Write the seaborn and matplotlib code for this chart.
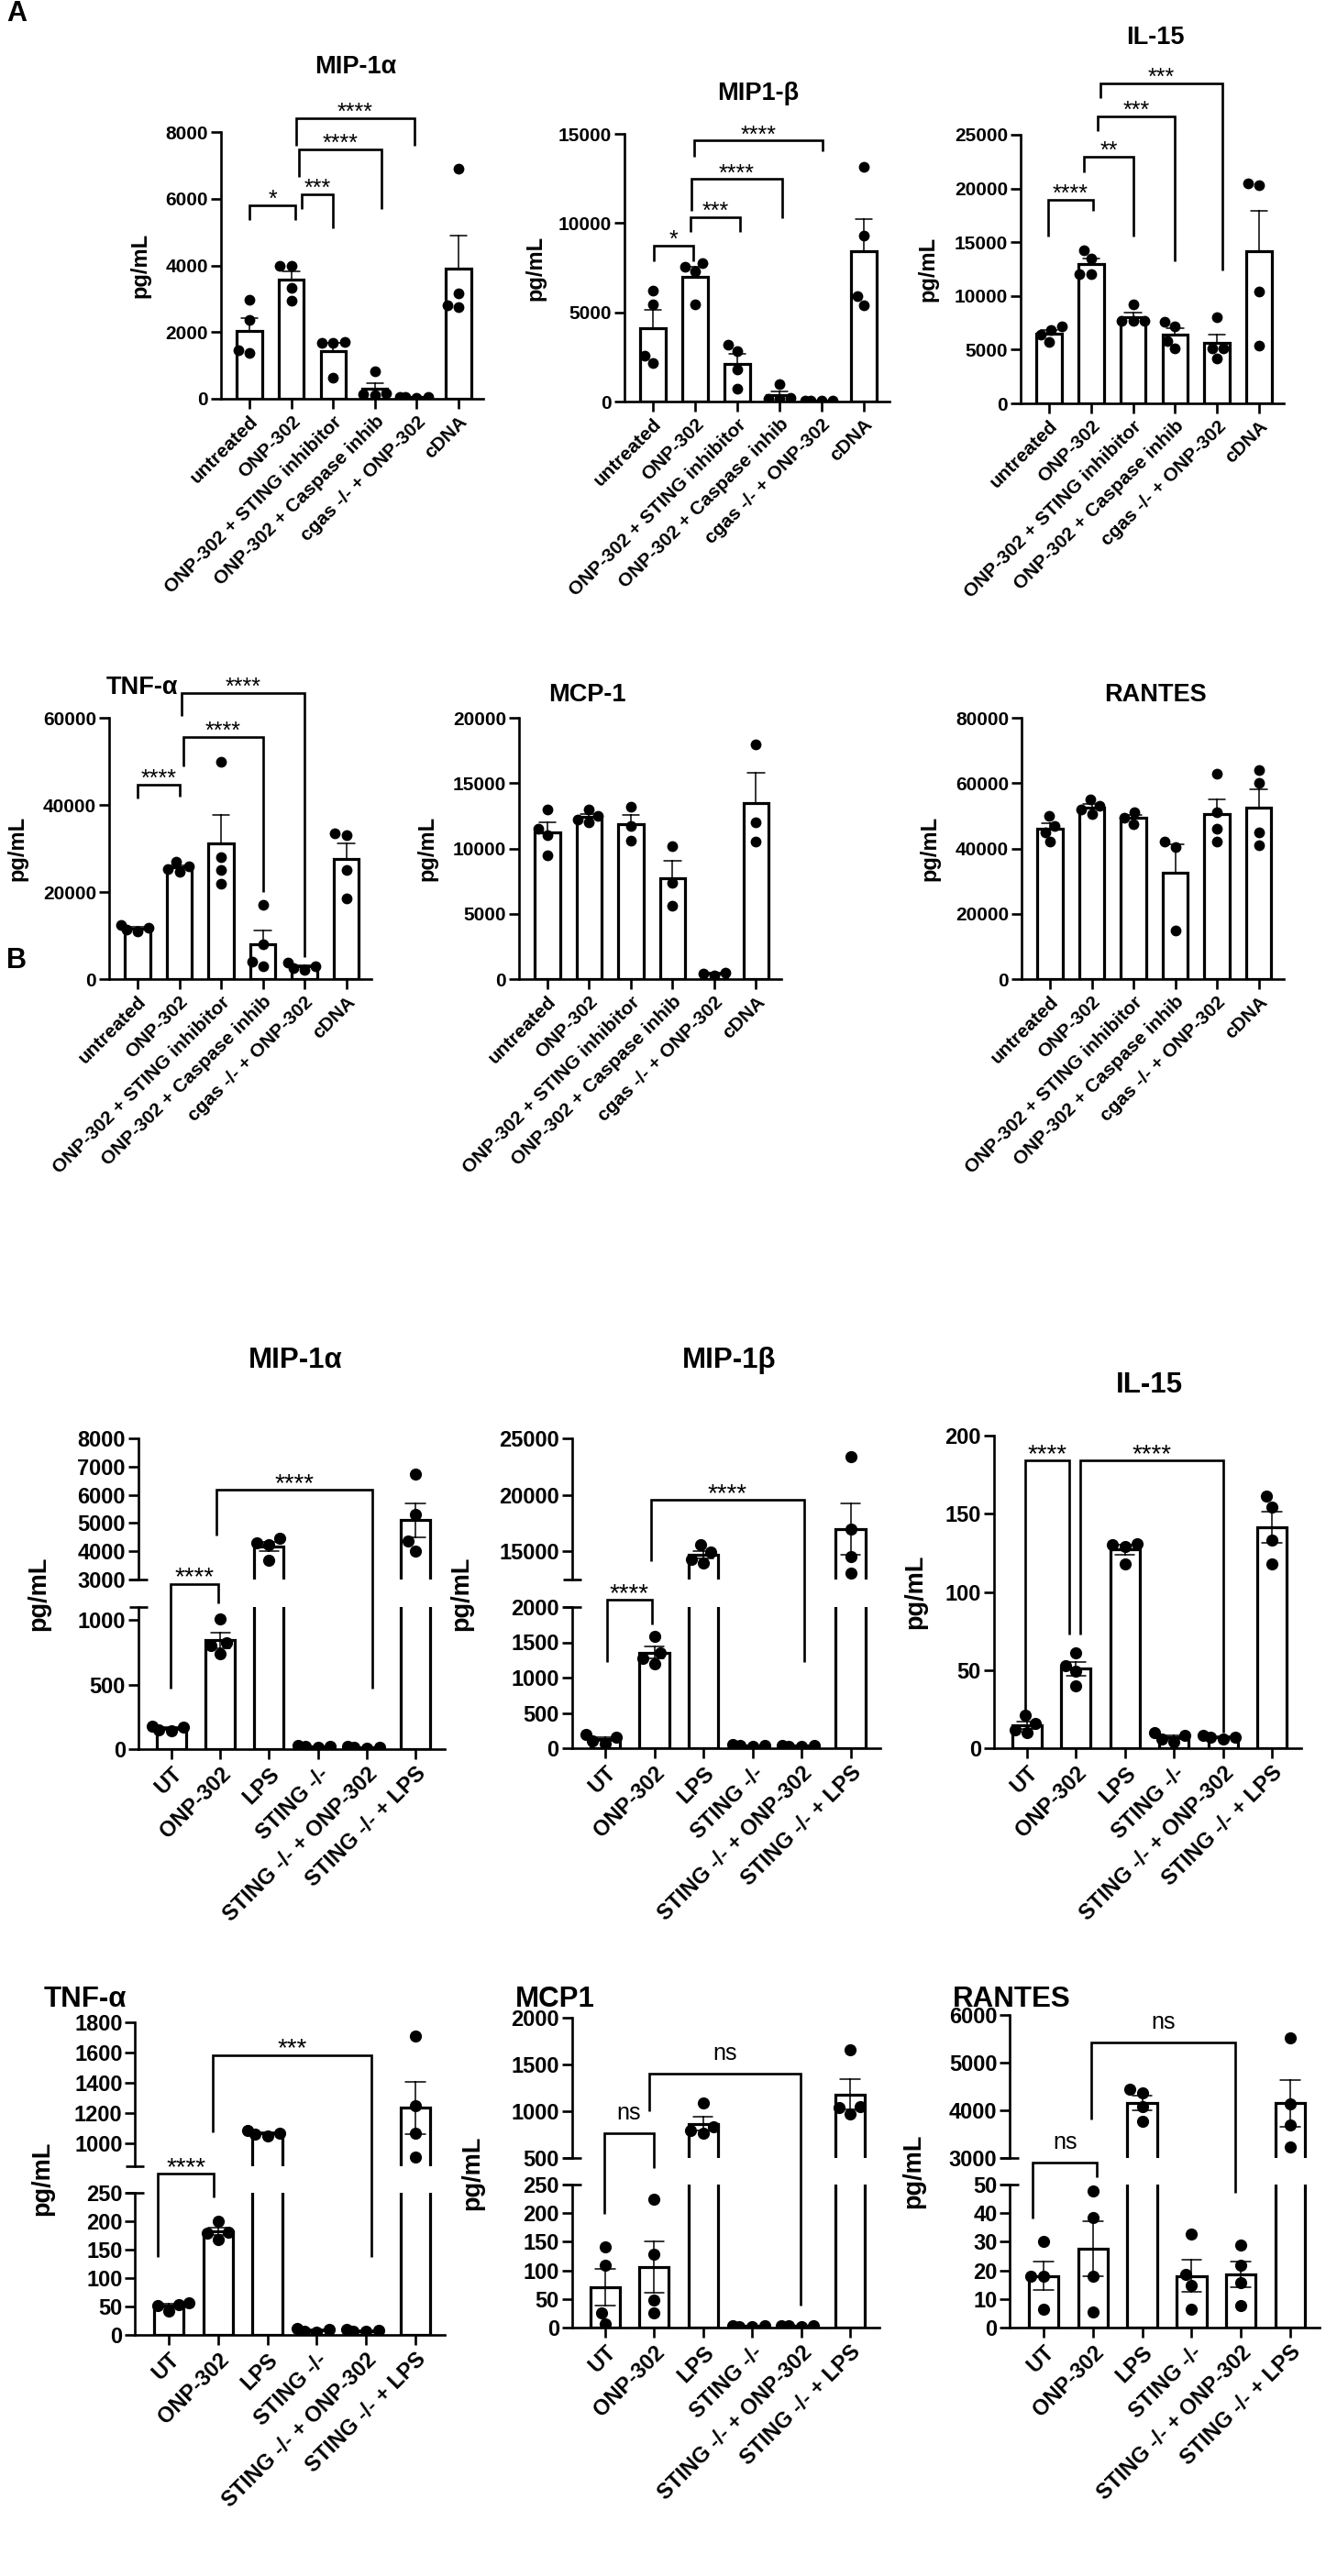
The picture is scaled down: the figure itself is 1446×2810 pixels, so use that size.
import warnings

import matplotlib
matplotlib.use("Agg")
import matplotlib.pyplot as plt
import pandas as pd
import seaborn as sns
from matplotlib.lines import Line2D

warnings.filterwarnings("ignore")

W, H = 1446, 2810

# ---------------- data: replicate values (pg/mL) ----------------
A_GROUPS = ["untreated", "ONP-302", "ONP-302 + STING inhibitor",
            "ONP-302 + Caspase inhib", "cgas -/- + ONP-302", "cDNA"]
B_GROUPS = ["UT", "ONP-302", "LPS", "STING -/-", "STING -/- + ONP-302", "STING -/- + LPS"]

A_MIP1A = [[2970, 2360, 1460, 1370], [3990, 3990, 3330, 2940], [1700, 1690, 1680, 640],
           [820, 170, 130, 110], [60, 50, 40, 50], [6900, 3150, 2800, 2750]]
A_MIP1B = [[6200, 5470, 2560, 2140], [7740, 7570, 7270, 5420], [3160, 2820, 1800, 740],
           [990, 200, 150, 150], [60, 50, 40, 50], [13130, 9280, 5900, 5390]]
A_IL15 = [[7170, 6830, 6400, 5690], [14280, 13510, 12000, 12000], [9190, 7680, 7680, 7680],
          [7620, 7170, 5830, 5120], [8000, 5100, 5100, 4200], [20500, 20300, 10380, 5400]]
A_TNFA = [[12500, 11800, 11300, 10900], [27000, 25800, 25200, 24600], [50000, 28000, 25000, 22000],
          [17000, 8000, 4000, 3000], [3800, 3000, 2500, 2200], [33500, 33000, 25000, 18500]]
A_MCP1 = [[13000, 11500, 11000, 9500], [13000, 12500, 12200, 12000], [13200, 11700, 10600],
          [10200, 7400, 5600], [500, 400, 300], [18000, 12000, 10500]]
A_RANTES = [[50000, 47000, 45000, 42000], [55000, 53000, 52000, 50500], [51000, 49500, 47500],
            [42000, 40500, 15000], [63000, 51000, 46000, 42000], [64000, 60000, 45000, 41000]]

B_MIP1A = [[180, 170, 150, 140], [1010, 820, 800, 740], [4460, 4300, 4250, 3680],
           [25, 20, 20, 15], [20, 15, 15, 10], [6730, 5300, 4360, 4010]]
B_MIP1B = [[200, 150, 100, 70], [1590, 1350, 1270, 1200], [15600, 14900, 14300, 14000],
           [50, 40, 35, 30], [40, 35, 30, 25], [23370, 16950, 14510, 13050]]
B_IL15 = [[21, 16, 12, 10], [61, 53, 49, 40], [131, 130, 129, 118],
          [10, 8, 6, 4], [8, 7, 7, 6], [161, 154, 133, 118]]
B_TNFA = [[57, 54, 52, 42], [200, 181, 179, 168], [1085, 1070, 1060, 1050],
          [12, 9, 7, 5], [9, 8, 6, 6], [1710, 1250, 1070, 910]]
B_MCP1 = [[141, 109, 26, 6], [224, 128, 48, 26], [1088, 830, 790, 760],
          [4, 3, 2, 2], [4, 3, 3, 2], [1657, 1049, 1040, 970]]
B_RANTES = [[30, 18, 18, 6.4], [47.8, 38.5, 18, 5.4], [4440, 4365, 4070, 3770],
            [32.7, 18.5, 14.7, 6.4], [28.8, 21.8, 15.7, 7.7], [5520, 4135, 3700, 3230]]

# ---------------- layout (pixel positions) and significance brackets ----------------
# segs: (ylim, bottom px, top px, ticks); brackets: (x left, x right, bar, left end, right end, label)
A_STYLE = dict(tick=15, title=19.5, ylab=17, star=18, dot=8.5, err_z=0.5)
B_STYLE = dict(tick=17, title=22.5, ylab=19.5, star=20, dot=9.5, err_z=3)

PANELS = [
    dict(title="MIP-1α", tpos=(388, 73), groups=A_GROUPS, reps=A_MIP1A, x0=272, step=45.6,
         segs=[((0, 8000), 435, 144, [0, 2000, 4000, 6000, 8000])], ylab_dx=88, st=A_STYLE,
         brackets=[(0, 1.1, 5800, 5370, 5370, "*"), (1.25, 2.0, 6140, 5700, 5120, "***"),
                   (1.18, 3.15, 7480, 6660, 5700, "****"), (1.12, 3.94, 8410, 7590, 7590, "****")]),
    dict(title="MIP1-β", tpos=(827, 102), groups=A_GROUPS, reps=A_MIP1B, x0=712, step=46,
         segs=[((0, 15000), 438, 146, [0, 5000, 10000, 15000])], ylab_dx=97, st=A_STYLE,
         brackets=[(0.02, 0.96, 8720, 7850, 7850, "*"), (0.89, 2.07, 10310, 9490, 9490, "***"),
                   (0.91, 3.07, 12460, 10670, 10260, "****"), (0.98, 4.02, 14620, 13740, 14000, "****")]),
    dict(title="IL-15", tpos=(1260, 41), groups=A_GROUPS, reps=A_IL15, x0=1144, step=45.8,
         segs=[((0, 25000), 440, 147, [0, 5000, 10000, 15000, 20000, 25000])], ylab_dx=101, st=A_STYLE,
         brackets=[(-0.02, 1.05, 18940, 15530, 17920, "****"), (0.83, 2.01, 22950, 21500, 15530, "**"),
                   (1.16, 2.99, 26710, 25340, 13230, "***"), (1.22, 4.13, 29780, 28410, 12370, "***")]),
    dict(title="TNF-α", tpos=(155, 750), groups=A_GROUPS, reps=A_TNFA, x0=150, step=45.5,
         segs=[((0, 60000), 1068, 783, [0, 20000, 40000, 60000])], ylab_dx=100, st=A_STYLE,
         brackets=[(0, 1.0, 44600, 41500, 42000, "****"), (1.1, 3.0, 55600, 48800, 20000, "****"),
                   (1.05, 4.0, 65700, 60400, 5000, "****")]),
    dict(title="MCP-1", tpos=(640, 758), groups=A_GROUPS, reps=A_MCP1, x0=597, step=45.5,
         segs=[((0, 20000), 1068, 783, [0, 5000, 10000, 15000, 20000])], ylab_dx=100, st=A_STYLE,
         brackets=[]),
    dict(title="RANTES", tpos=(1260, 758), groups=A_GROUPS, reps=A_RANTES, x0=1145, step=45.5,
         segs=[((0, 80000), 1068, 783, [0, 20000, 40000, 60000, 80000])], ylab_dx=100, st=A_STYLE,
         brackets=[]),
    dict(title="MIP-1α", tpos=(322, 1484), groups=B_GROUPS, reps=B_MIP1A, x0=187, step=53.2,
         segs=[((0, 1100), 1908, 1753, [0, 500, 1000]),
               ((3000, 8000), 1723, 1569, [3000, 4000, 5000, 6000, 7000, 8000])], ylab_dx=109, st=B_STYLE,
         brackets=[(-0.02, 0.96, 1280, 465, 1127, "****"), (0.92, 4.12, 6180, 4560, 465, "****")]),
    dict(title="MIP-1β", tpos=(795, 1484), groups=B_GROUPS, reps=B_MIP1B, x0=660, step=53.5,
         segs=[((0, 2000), 1907, 1753, [0, 500, 1000, 1500, 2000]),
               ((12500, 25000), 1723, 1569, [15000, 20000, 25000])], ylab_dx=120, st=B_STYLE,
         brackets=[(0.04, 0.95, 2104, 1221, 1753, "****"), (0.93, 4.06, 19550, 14100, 1221, "****")]),
    dict(title="IL-15", tpos=(1253, 1511), groups=B_GROUPS, reps=B_IL15, x0=1120, step=53.4,
         segs=[((0, 200), 1907, 1566, [0, 50, 100, 150, 200])], ylab_dx=85, st=B_STYLE,
         brackets=[(-0.04, 0.86, 184, 20, 73, "****"), (1.09, 4.0, 184, 73, 10, "****")]),
    dict(title="TNF-α", tpos=(93, 2181), groups=B_GROUPS, reps=B_TNFA, x0=184, step=53.8,
         segs=[((0, 250), 2547, 2392, [0, 50, 100, 150, 200, 250]),
               ((850, 1800), 2363, 2206, [1000, 1200, 1400, 1600, 1800])], ylab_dx=101, st=B_STYLE,
         brackets=[(-0.22, 0.91, 284, 137, 242, "****"), (0.89, 4.11, 1585, 1074, 137, "***")]),
    dict(title="MCP1", tpos=(605, 2181), groups=B_GROUPS, reps=B_MCP1, x0=660, step=53.4,
         segs=[((0, 250), 2539, 2383, [0, 50, 100, 150, 200, 250]),
               ((500, 2000), 2354, 2201, [500, 1000, 1500, 2000])], ylab_dx=108, st=B_STYLE,
         brackets=[(-0.02, 0.99, 765, 198, 279, "ns"), (0.9, 3.99, 1402, 1000, 38, "ns")]),
    dict(title="RANTES", tpos=(1103, 2181), groups=B_GROUPS, reps=B_RANTES, x0=1138, step=53.8,
         segs=[((0, 50), 2539, 2383, [0, 10, 20, 30, 40, 50]),
               ((3000, 6000), 2354, 2198, [3000, 4000, 5000, 6000])], ylab_dx=105, st=B_STYLE,
         brackets=[(-0.22, 1.08, 57.7, 38, 52.6, "ns"), (0.97, 3.88, 5423, 3808, 47, "ns")]),
]

XLIM = (-0.68, 5.6)
LW = 1.9

sns.set_style("ticks")
plt.rcParams["font.family"] = ["Liberation Sans", "DejaVu Sans"]
plt.rcParams["font.weight"] = "bold"
plt.rcParams["axes.edgecolor"] = "black"
plt.rcParams["xtick.color"] = "black"
plt.rcParams["ytick.color"] = "black"
plt.rcParams["text.color"] = "black"

fig = plt.figure(figsize=(W / 100, H / 100), dpi=100)


def add_line(xs, ys):
    # xs, ys in display pixels (origin bottom-left)
    fig.add_artist(Line2D([x / W for x in xs], [y / H for y in ys], transform=fig.transFigure,
                          color="black", lw=LW, solid_capstyle="butt", solid_joinstyle="miter"))


for p in PANELS:
    st = p["st"]
    df = pd.DataFrame([(g, v) for g, vals in zip(p["groups"], p["reps"]) for v in vals],
                      columns=["group", "value"])
    axes = []
    for k, (ylim, ybot, ytop, ticks) in enumerate(p["segs"]):
        left = p["x0"] + XLIM[0] * p["step"]
        width = (XLIM[1] - XLIM[0]) * p["step"]
        ax = fig.add_axes([left / W, 1 - ybot / H, width / W, (ybot - ytop) / H])
        sns.barplot(data=df, x="group", y="value", order=p["groups"], errorbar="se",
                    capsize=0.4, width=0.6, color="white", edgecolor="black", linewidth=2.3,
                    err_kws={"color": "black", "linewidth": 1.1, "zorder": st["err_z"]}, ax=ax)
        sns.swarmplot(data=df, x="group", y="value", order=p["groups"], color="black",
                      size=st["dot"], ax=ax, zorder=4)
        ax.set_xlim(*XLIM)
        ax.set_ylim(*ylim)
        ax.set_yticks(ticks)
        ax.set_yticklabels([str(int(t)) for t in ticks])
        ax.set_xlabel("")
        ax.set_ylabel("")
        ax.tick_params(axis="y", length=8, width=LW, labelsize=st["tick"], pad=2)
        for side in ("top", "right"):
            ax.spines[side].set_visible(False)
        ax.spines["left"].set_linewidth(LW)
        ax.spines["bottom"].set_linewidth(LW)
        if k == 0:
            ax.set_xticks(range(len(p["groups"])))
            ax.set_xticklabels(p["groups"], rotation=45, ha="right", rotation_mode="anchor")
            ax.tick_params(axis="x", length=8, width=LW, labelsize=st["tick"], pad=3)
        else:
            ax.spines["bottom"].set_visible(False)
            ax.tick_params(axis="x", bottom=False, labelbottom=False)
        axes.append(ax)

    spine_x = p["x0"] + XLIM[0] * p["step"]
    top_px = min(s[2] for s in p["segs"])
    bot_px = max(s[1] for s in p["segs"])

    # axis break marks
    if len(axes) > 1:
        for ypx in (p["segs"][0][2], p["segs"][1][1]):
            add_line([spine_x - 10, spine_x + 10], [H - ypx, H - ypx])

    fig.text(p["tpos"][0] / W, 1 - p["tpos"][1] / H, p["title"], ha="center", va="center",
             fontsize=st["title"], fontweight="bold")
    fig.text((spine_x - p["ylab_dx"]) / W, 1 - (top_px + bot_px) / 2 / H, "pg/mL",
             rotation=90, ha="center", va="center", fontsize=st["ylab"], fontweight="bold")

    def ypix(v):
        ax = axes[1] if len(axes) > 1 and v >= axes[1].get_ylim()[0] else axes[0]
        return ax.transData.transform((0, v))[1]

    def xpix(x):
        return axes[0].transData.transform((x, 0))[0]

    for xl, xr, yb, yl, yr, lab in p["brackets"]:
        X1, X2 = xpix(xl), xpix(xr)
        YB, YL, YR = ypix(yb), ypix(yl), ypix(yr)
        add_line([X1, X1, X2, X2], [YL, YB, YB, YR])
        if lab == "ns":
            fig.text((X1 + X2) / 2 / W, (YB + 15) / H, lab, ha="center", va="baseline",
                     fontsize=18, fontweight="normal")
        else:
            fig.text((X1 + X2) / 2 / W, (YB - 1) / H, lab, ha="center", va="baseline",
                     fontsize=st["star"], fontweight="normal")

fig.text(18 / W, 1 - 15 / H, "A", ha="center", va="center", fontsize=22, fontweight="bold")
fig.text(18 / W, 1 - 1048 / H, "B", ha="center", va="center", fontsize=22, fontweight="bold")

fig.savefig("out.png", dpi=100)
